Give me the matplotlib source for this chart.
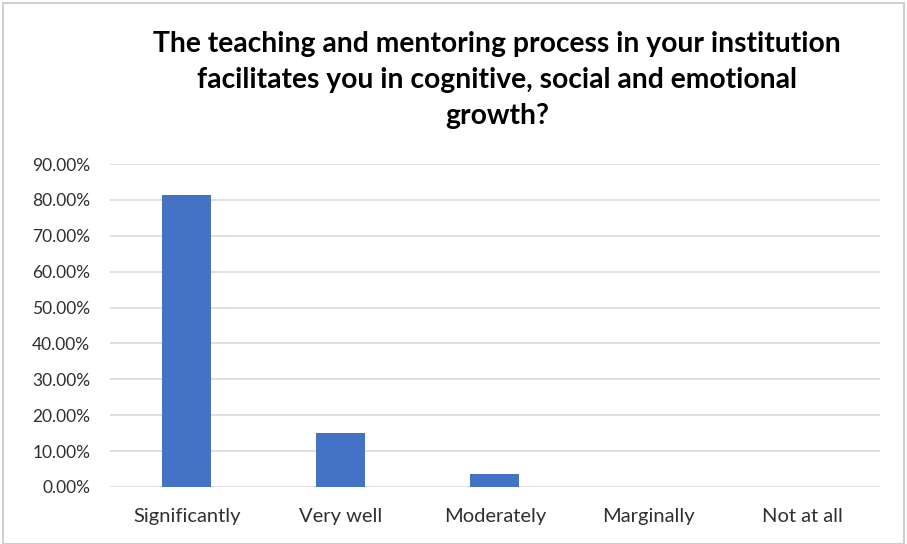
import matplotlib.pyplot as plt
from matplotlib.ticker import FuncFormatter
from matplotlib.patches import Rectangle

categories = ["Significantly", "Very well", "Moderately", "Marginally", "Not at all"]
values = [0.814, 0.150, 0.035, 0.0, 0.0]
title = ("The teaching and mentoring process in your institution\n"
         "facilitates you in cognitive, social and emotional\n"
         "growth?")

plt.rcParams['font.family'] = ['Lato', 'DejaVu Sans']

fig = plt.figure(figsize=(9.07, 5.44), dpi=100)
ax = fig.add_axes([0.121, 0.1048, 0.849, 0.5937])

x = range(len(categories))
ax.bar(x, values, width=0.32, color="#4472C4", zorder=3)

ax.set_xlim(-0.5, len(categories) - 0.5)
ax.set_ylim(0, 0.9)
ax.set_yticks([i / 10 for i in range(10)])
ax.yaxis.set_major_formatter(FuncFormatter(lambda v, p: f"{v * 100:.2f}%"))
ax.set_xticks(list(x))
ax.set_xticklabels(categories)
ax.grid(axis="y", color="#D9D9D9", linewidth=1.2, zorder=0)
for s in ax.spines.values():
    s.set_visible(False)
ax.tick_params(axis="both", length=0, labelsize=12.5, colors="#303030")
ax.tick_params(axis="x", pad=15, labelsize=14.5)
ax.tick_params(axis="y", pad=14)

fig.text(0.548, 0.853, title, ha="center", va="center", fontsize=20.3,
         fontweight="bold", color="black", linespacing=1.47)

fig.patches.append(Rectangle((0.003, 0.0), 0.994, 0.994, transform=fig.transFigure,
                             fill=False, edgecolor="#D0D0D0", linewidth=1.5))

fig.savefig("out.png", dpi=100)
